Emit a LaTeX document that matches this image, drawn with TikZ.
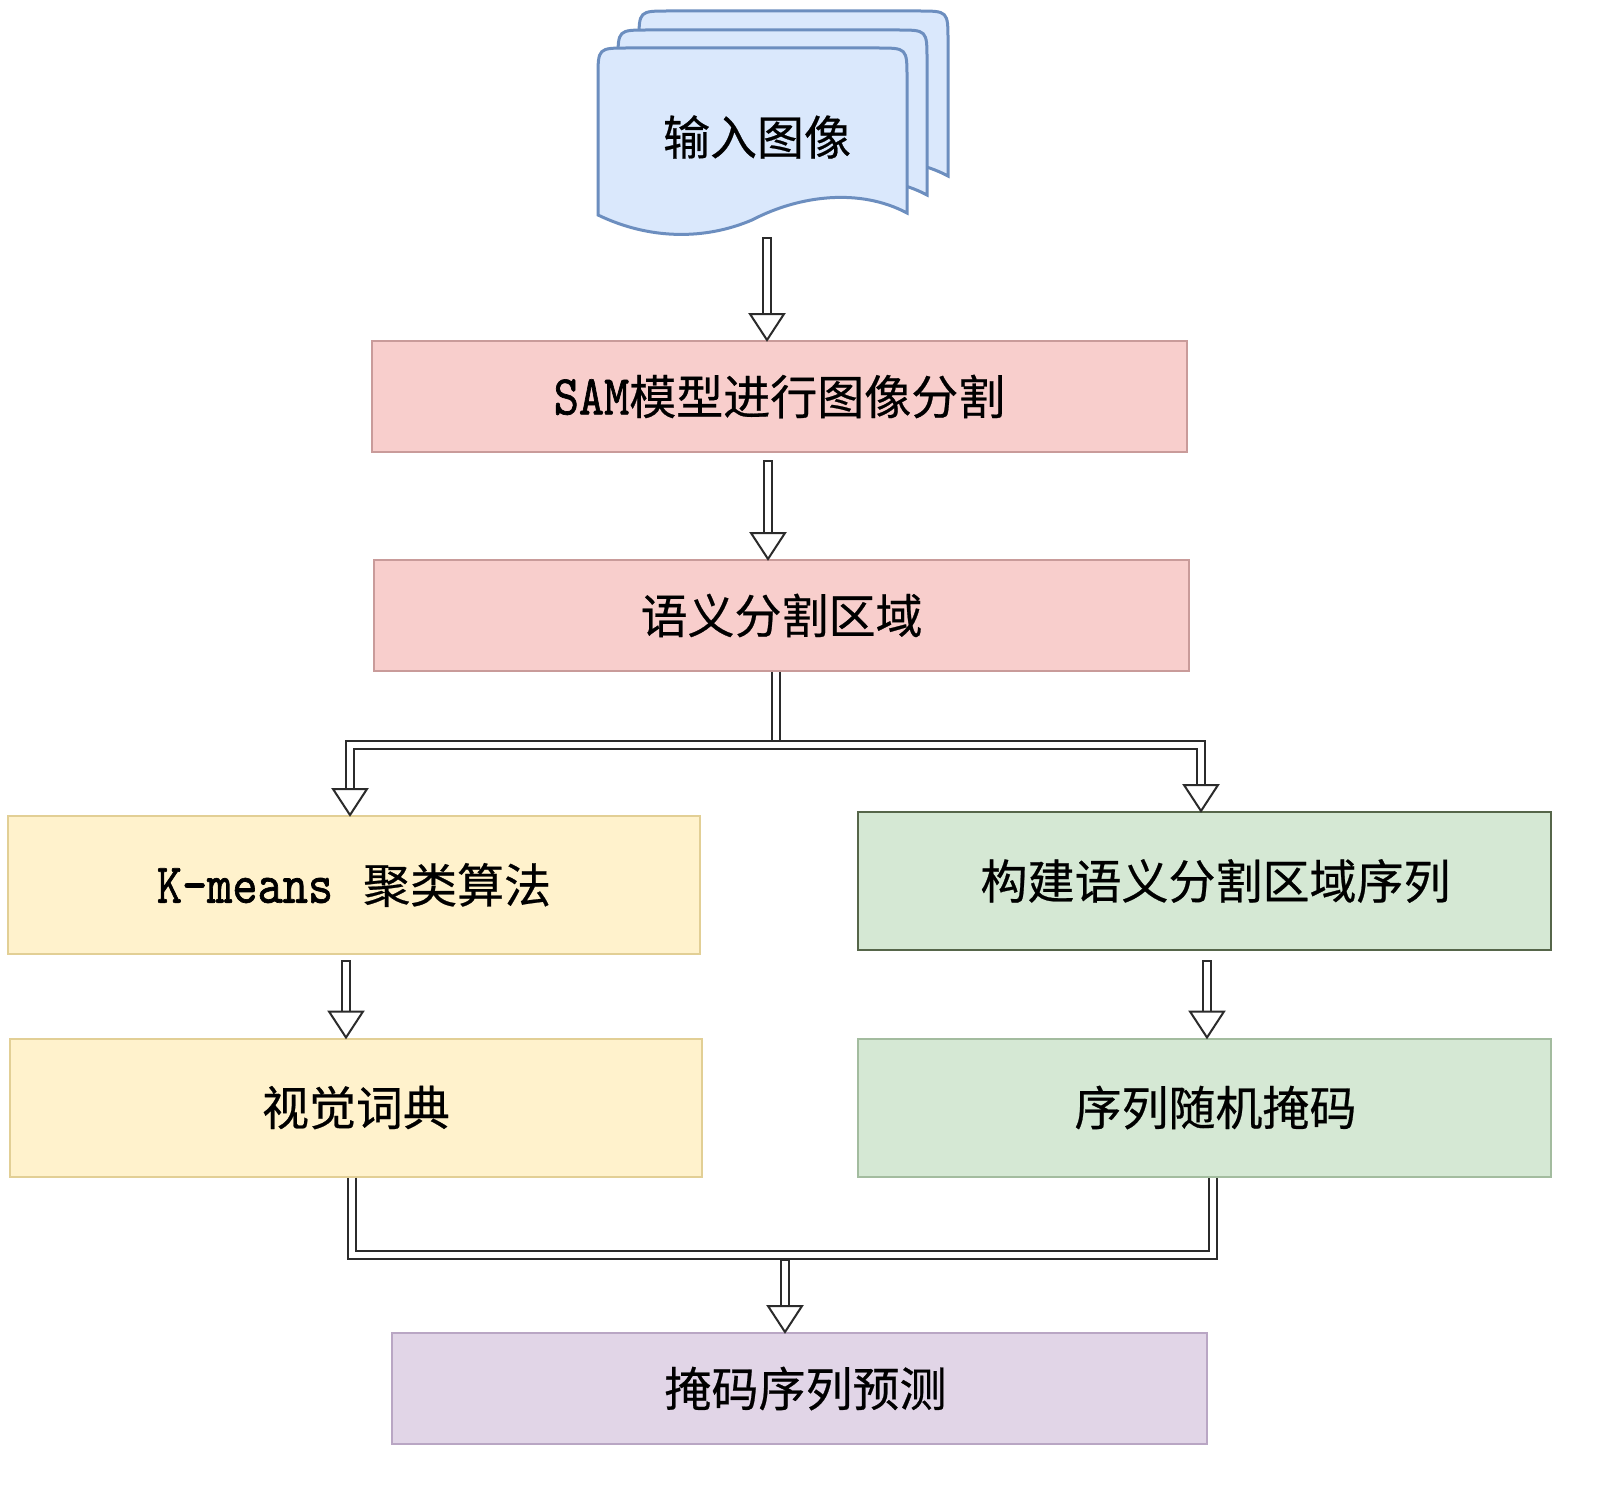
\documentclass[tikz,border=0pt]{standalone}
\usepackage{fontspec}
\setmainfont{Noto Sans CJK SC}[FakeBold=0.5]
\newfontfamily\lat{lmmono10-regular.otf}[FakeBold=1.2, FakeStretch=0.85, Scale=1.2]
\usetikzlibrary{calc}
\definecolor{docfill}{HTML}{DAE8FC}
\definecolor{docline}{HTML}{6C8EBF}
\definecolor{pinkfill}{HTML}{F8CECC}
\definecolor{pinkline}{HTML}{C99B9A}
\definecolor{yelfill}{HTML}{FFF2CC}
\definecolor{yelline}{HTML}{E2CF95}
\definecolor{grnfill}{HTML}{D5E8D4}
\definecolor{grnline}{HTML}{A3BC9F}
\definecolor{grndark}{HTML}{56664A}
\definecolor{purfill}{HTML}{E1D5E7}
\definecolor{purline}{HTML}{B9A6C4}
\definecolor{ink}{HTML}{2B2B2B}
\tikzset{
  box/.style={draw, line width=1pt, inner sep=0pt, font=\fontsize{23.5}{26}\selectfont},
  pinkbox/.style={box, fill=pinkfill, draw=pinkline, minimum width=407.5pt, minimum height=55.5pt},
  yelbox/.style={box, fill=yelfill, draw=yelline, minimum width=346pt, minimum height=69pt},
  grnbox/.style={box, fill=grnfill, draw=grnline, minimum width=346.5pt, minimum height=69pt},
  purbox/.style={box, fill=purfill, draw=purline, minimum width=407.5pt, minimum height=55.5pt},
  docpage/.style={fill=docfill, draw=docline, line width=1.5pt},
  pipe/.style={draw=ink, line width=1pt, double=white, double distance=3pt},
  shaft/.style={draw=ink, fill=white, line width=1pt},
  head/.style={draw=ink, fill=white, line width=1pt, line join=miter},
}
% #1 top of shaft, #2 tip
\newcommand\hollowarrow[2]{%
  \draw[shaft] ([xshift=-2pt]#1) rectangle ([xshift=2pt,yshift=13pt]#2);
  \draw[head] ([xshift=-8.5pt,yshift=13pt]#2) -- ([xshift=8.5pt,yshift=13pt]#2) -- (#2) -- cycle;}
\newcommand\pipearrow[1]{%
  \draw[head] ([xshift=-8.5pt,yshift=13pt]#1) -- ([xshift=8.5pt,yshift=13pt]#1) -- (#1) -- cycle;}
\newcommand\docshape{%
  (598,215) -- (598,78) .. controls (598,48) .. (628,48) -- (877,48)
  .. controls (907,48) .. (907,78) -- (907,213)
  .. controls (860,188) and (800,195) .. (752,220)
  .. controls (705,240) and (650,240) .. (598,215) -- cycle}
\begin{document}
\begin{tikzpicture}[x=0.5pt,y=-0.5pt]
\fill[white] (0,0) rectangle (1600,1487);
\useasboundingbox (0,0) rectangle (1600,1487);

% document stack
\begin{scope}[shift={(41,-37)}]
  \draw[docpage] \docshape;
\end{scope}
\begin{scope}[shift={(20,-18)}]
  \draw[docpage] \docshape;
\end{scope}
\draw[docpage] \docshape;
\node[font=\fontsize{23.5}{26}\selectfont] (doc) at (757,137) {输入图像};
\coordinate (docbot) at (767,238);

% boxes
\node[pinkbox] (sam) at (779.5,396.5) {{\lat SAM}模型进行图像分割};
\node[pinkbox] (seg) at (781.5,615.5) {语义分割区域};
\node[yelbox] (km) at (354,885) {{\lat K-means}\hspace{15pt}聚类算法};
\node[grnbox, draw=grndark] (seq) at (1204.5,881) {\hspace*{11pt}构建语义分割区域序列};
\node[yelbox] (dict) at (356,1107.5) {视觉词典};
\node[grnbox] (mask) at (1204.5,1107.5) {\hspace*{11pt}序列随机掩码};
\node[purbox] (pred) at (799.5,1388.5) {\hspace*{6pt}掩码序列预测};

% arrows
\hollowarrow{docbot}{767,0 |- sam.north}
\coordinate (a2top) at ($(768,0 |- sam.south)+(0,8)$);
\hollowarrow{a2top}{768,0 |- seg.north}

% branch
\coordinate (brc) at (776,745);
\coordinate (brl) at (350,745);
\coordinate (brr) at (1201,745);
\draw[pipe] (776,0 |- seg.south) -- (brc);
\draw[pipe] ([yshift=13pt]350,0 |- km.north) -- (brl) -- (brr) -- ([yshift=13pt]1201,0 |- seq.north);
\pipearrow{350,0 |- km.north}
\pipearrow{1201,0 |- seq.north}

\coordinate (a3top) at ($(346,0 |- km.south)+(0,6)$);
\hollowarrow{a3top}{346,0 |- dict.north}
\coordinate (a4top) at ($(1207,0 |- seq.south)+(0,10)$);
\hollowarrow{a4top}{1207,0 |- mask.north}

% merge
\coordinate (mgl) at (352,1255);
\coordinate (mgr) at (1213,1255);
\draw[pipe] (352,0 |- dict.south) -- (mgl) -- (mgr) -- (1213,0 |- mask.south);
\coordinate (mgc) at (785,1260);
\hollowarrow{mgc}{785,0 |- pred.north}
\end{tikzpicture}
\end{document}
